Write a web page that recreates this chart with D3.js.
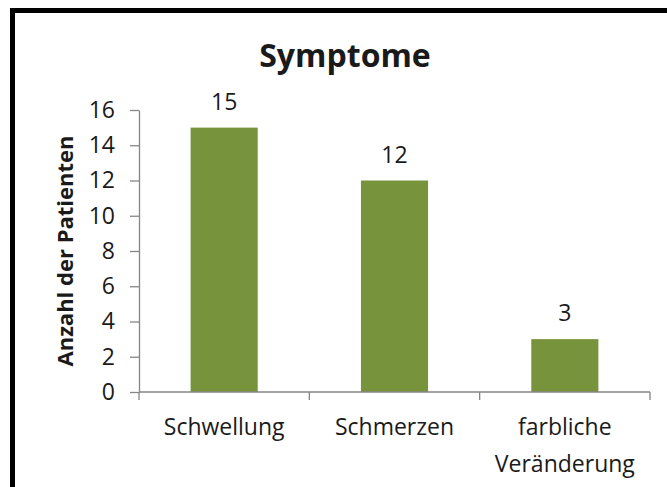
<!DOCTYPE html>
<html>
<head>
<meta charset="utf-8">
<script src="https://cdn.jsdelivr.net/npm/d3@7"></script>
<style>
  html, body { margin: 0; padding: 0; background: #fff; }
  svg { display: block; }
  text { font-family: "Open Sans", "Noto Sans", sans-serif; fill: #1a1a1a; }
</style>
</head>
<body>
<svg id="chart" width="667" height="487"></svg>
<script>
const categories = [["Schwellung"], ["Schmerzen"], ["farbliche", "Veränderung"]];
const values = [15, 12, 3];
const yTicks = [0, 2, 4, 6, 8, 10, 12, 14, 16];
const title = "Symptome";
const yTitle = "Anzahl der Patienten";

const svg = d3.select("#chart");
const W = 667, H = 487;
const plot = { left: 139, right: 650, top: 110, bottom: 392 };
const axisColor = "#868686";
const barColor = "#77933C";

// Chart border (only left and top visible)
svg.append("rect")
  .attr("x", 12.5).attr("y", 10.5)
  .attr("width", W + 40).attr("height", H + 40)
  .attr("fill", "#fff").attr("stroke", "#000").attr("stroke-width", 5);

const keys = categories.map(c => c.join(" "));
const x = d3.scaleBand().domain(keys)
  .range([plot.left, plot.right])
  .paddingInner(0.606).paddingOuter(0.303);
const y = d3.scaleLinear().domain([0, 16]).range([plot.bottom, plot.top]);

// Y axis
const yAxis = svg.append("g")
  .attr("transform", `translate(${plot.left},0)`)
  .call(d3.axisLeft(y).tickValues(yTicks).tickSize(9).tickSizeOuter(0).tickPadding(15));
yAxis.selectAll("path, line").attr("stroke", axisColor).attr("stroke-width", 1.3);
yAxis.selectAll("text").attr("font-size", 23).attr("font-family", "Open Sans").attr("fill", "#1a1a1a");

// Bars
svg.selectAll("rect.bar").data(values).enter().append("rect")
  .attr("class", "bar")
  .attr("x", (d, i) => x(keys[i]))
  .attr("width", x.bandwidth())
  .attr("y", d => y(d))
  .attr("height", d => y(0) - y(d))
  .attr("fill", barColor);

// X axis line + boundary ticks
const xg = svg.append("g");
xg.append("line")
  .attr("x1", plot.left).attr("x2", plot.right)
  .attr("y1", y(0)).attr("y2", y(0))
  .attr("stroke", axisColor).attr("stroke-width", 1.3);
d3.range(keys.length + 1).forEach(i => {
  const bx = x.range()[0] + i * x.step();
  xg.append("line")
    .attr("x1", bx).attr("x2", bx)
    .attr("y1", y(0)).attr("y2", y(0) + 8)
    .attr("stroke", axisColor).attr("stroke-width", 1.3);
});

// Category labels
categories.forEach((lines, i) => {
  const t = svg.append("text")
    .attr("x", x(keys[i]) + x.bandwidth() / 2)
    .attr("y", 435)
    .attr("text-anchor", "middle")
    .attr("font-size", 23);
  lines.forEach((ln, j) => {
    t.append("tspan")
      .attr("x", x(keys[i]) + x.bandwidth() / 2)
      .attr("dy", j === 0 ? 0 : 37)
      .text(ln);
  });
});

// Data labels
svg.selectAll("text.val").data(values).enter().append("text")
  .attr("class", "val")
  .attr("x", (d, i) => x(keys[i]) + x.bandwidth() / 2)
  .attr("y", d => y(d) - 18)
  .attr("text-anchor", "middle")
  .attr("font-size", 23)
  .text(d => d);

// Title
svg.append("text")
  .attr("x", 345).attr("y", 67)
  .attr("text-anchor", "middle")
  .attr("font-size", 32).attr("font-weight", "bold")
  .attr("fill", "#000")
  .text(title);

// Y axis title
svg.append("text")
  .attr("transform", `translate(73,251) rotate(-90)`)
  .attr("text-anchor", "middle")
  .attr("font-size", 22).attr("font-weight", "bold")
  .attr("fill", "#000")
  .text(yTitle);
</script>
</body>
</html>
